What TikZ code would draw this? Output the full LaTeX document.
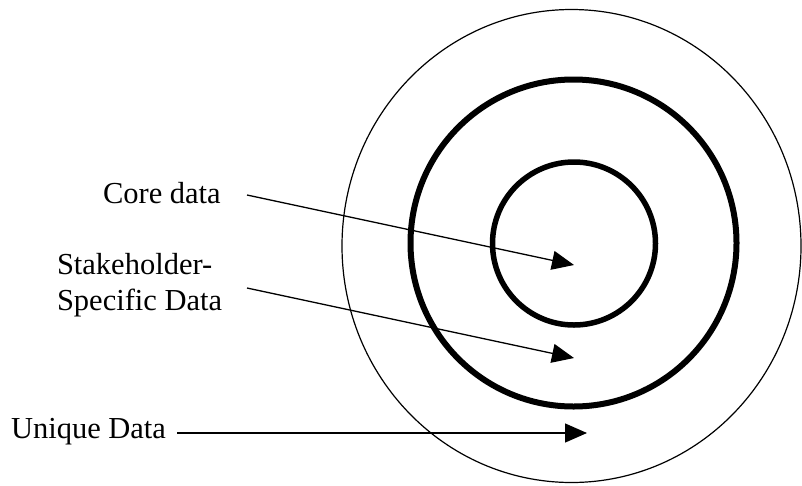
\documentclass[tikz,border=0pt]{standalone}
\usepackage{fontspec}
\setmainfont{Liberation Serif}
\usetikzlibrary{arrows.meta}
\begin{document}
\begin{tikzpicture}[x=1pt,y=-1pt,
  lbl/.style={inner sep=0pt, outer sep=0pt, font=\fontsize{30.5}{35.5}\selectfont, anchor=base west},
  pointer/.style={line width=1.3pt, -{Triangle[length=22pt,width=19pt]}},
  ring/.style={draw=black}]
\useasboundingbox (0,0) rectangle (802,485);

% concentric data layers
\draw[ring, line width=1.2pt] (571.5,246) ellipse [x radius=229.5, y radius=236.5];
\draw[ring, line width=6pt] (573.5,243) ellipse [x radius=163, y radius=163.5];
\draw[ring, line width=5.5pt] (574,243.5) circle [radius=81.5];

% labels (base anchor of a two-line node sits on its last line)
\node[lbl] (core) at (103,203) {Core data};
\node[lbl, align=left] (stake) at (57,310) {Stakeholder-\\Specific Data};
\node[lbl] (unique) at (11,438) {Unique Data};

% pointer end points
\coordinate (coreS) at (247,195);
\coordinate (coreT) at (574,265);
\coordinate (stakeS) at (247,288);
\coordinate (stakeT) at (574,358);
\coordinate (uniqS) at (177,433);
\coordinate (uniqT) at (587,433);

\draw[pointer] (coreS) -- (coreT);
\draw[pointer] (stakeS) -- (stakeT);
\draw[pointer] (uniqS) -- (uniqT);
\end{tikzpicture}
\end{document}
